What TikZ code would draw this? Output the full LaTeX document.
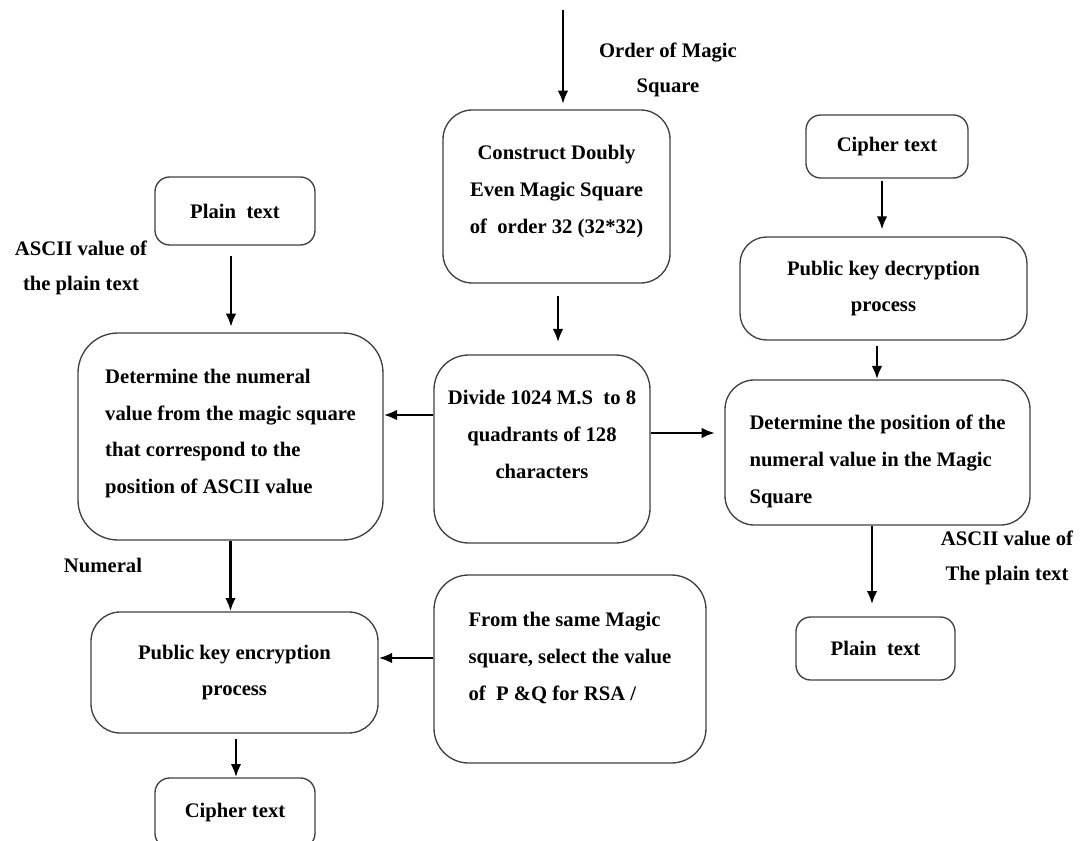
\documentclass[tikz,border=0pt]{standalone}
\usepackage{fontspec}
\setmainfont{Liberation Serif}
\usetikzlibrary{arrows.meta}
\newlength{\px}
\setlength{\px}{0.75pt}
\tikzstyle{caja} = [draw=black!75, line width=1pt, rectangle, inner sep=0pt, align=center, font=\fontsize{15.5}{27.5}\selectfont\bfseries]
\tikzstyle{etiqueta} = [inner sep=0pt, align=center, font=\fontsize{15.5}{26.5}\selectfont\bfseries]
\tikzstyle{flecha} = [-{Latex[length=10pt,width=8pt]}, line width=2pt]

\begin{document}
\begin{tikzpicture}[x=0.75pt, y=-0.75pt]
		\useasboundingbox (0,0) rectangle (1081,841);
		% centre column
		\coordinate (start) at (563,10);
		\node[caja, rounded corners=22pt, minimum width=227\px, minimum height=173\px](construct) at (556.5,196.5){Construct Doubly\\Even Magic Square\\of~~order 32 (32*32)\\[-22\px]};
		\node[caja, rounded corners=26pt, minimum width=216\px, minimum height=188\px](divide) at (542,449){Divide 1024 M.S~~to 8\\quadrants of 128\\characters\\[-7\px]};
		\node[caja, rounded corners=26pt, minimum width=272\px, minimum height=188\px, align=left](fromsame) at (570,669){From the same Magic\\square, select the value\\of~~P \&Q for RSA /\\[-11\px]};
		% left column
		\node[caja, rounded corners=11pt, minimum width=160\px, minimum height=68\px](plainL) at (235,211){Plain~~text};
		\node[caja, rounded corners=30pt, minimum width=305\px, minimum height=207\px, align=left](detleft) at (230.5,436.5){Determine the numeral\\value from the magic square\\that correspond to the\\position of ASCII value\\[-26\px]};
		\node[caja, rounded corners=22pt, minimum width=287\px, minimum height=121\px](pke) at (234.5,672.5){Public key encryption\\process};
		\node[caja, rounded corners=11pt, minimum width=160\px, minimum height=70\px](cipherL) at (235,813){Cipher text};
		% right column
		\node[caja, rounded corners=11pt, minimum width=162\px, minimum height=63\px](cipherR) at (887,146.5){Cipher text};
		\node[caja, rounded corners=20pt, minimum width=287\px, minimum height=103\px](pkd) at (883.5,288.5){Public key decryption\\process};
		\node[caja, rounded corners=22pt, minimum width=305\px, minimum height=145\px, align=left](detpos) at (877.5,452.5){\\[-4\px]Determine the position of the\\numeral value in the Magic\\Square};
		\node[caja, rounded corners=11pt, minimum width=159\px, minimum height=63\px](plainR) at (875.5,648.5){Plain~~text};
		% labels
		\node[etiqueta](order) at (668,70){Order of Magic\\Square};
		\node[etiqueta](asciiL) at (81,268){ASCII value of\\the plain text};
		\node[etiqueta](numeral) at (103,565){Numeral};
		\node[etiqueta](asciiR) at (1007,558){ASCII value of\\The plain text};
		% arrows
		\draw[flecha, shorten >=4pt] (start) -- (start |- construct.north);
		\draw[flecha, shorten <=9pt, shorten >=9pt] ([xshift=1.5\px]construct.south) -- ([xshift=1.5\px]construct.south |- divide.north);
		\draw[flecha] ([yshift=34\px]divide.west) -- ([yshift=34\px]divide.west -| detleft.east);
		\draw[flecha, shorten >=7pt] ([yshift=16\px]divide.east) -- ([yshift=16\px]divide.east -| detpos.west);
		\draw[flecha, shorten <=8pt, shorten >=4pt] ([xshift=-4\px]plainL.south) -- ([xshift=-4\px]plainL.south |- detleft.north);
		\draw[flecha] (detleft.south) -- (detleft.south |- pke.north);
		\draw[flecha] ([yshift=11\px]fromsame.west) -- ([yshift=11\px]fromsame.west -| pke.east);
		\draw[flecha, shorten <=4pt] ([xshift=1.5\px]pke.south) -- ([xshift=1.5\px]pke.south |- cipherL.north);
		\draw[flecha, shorten <=2pt, shorten >=5pt] ([xshift=-5\px]cipherR.south) -- ([xshift=-5\px]cipherR.south |- pkd.north);
		\draw[flecha, shorten <=4pt] ([xshift=-6.5\px]pkd.south) -- ([xshift=-6.5\px]pkd.south |- detpos.north);
		\draw[flecha, shorten >=9pt] ([xshift=-5.5\px]detpos.south) -- ([xshift=-5.5\px]detpos.south |- plainR.north);
	\end{tikzpicture}
\end{document}
